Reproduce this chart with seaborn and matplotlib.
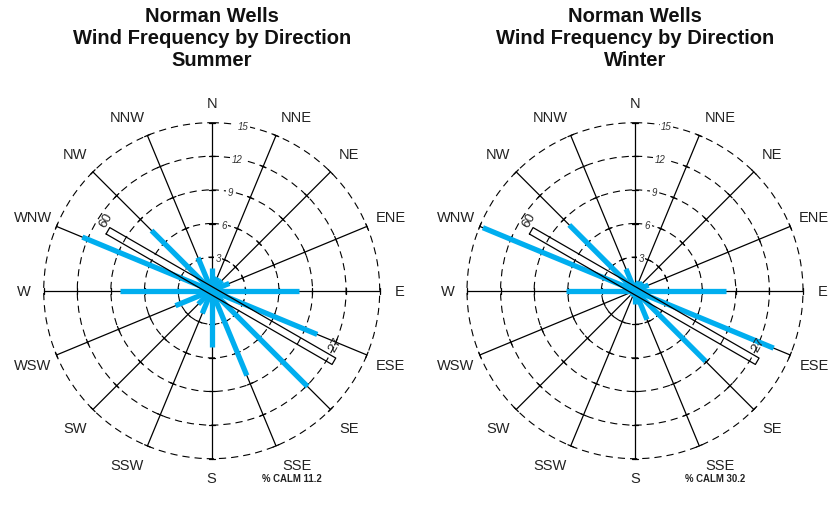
import numpy as np
import pandas as pd
import matplotlib
matplotlib.use("Agg")
import matplotlib.pyplot as plt
import seaborn as sns

# ── data ────────────────────────────────────────────────────────────────────
directions = ["N", "NNE", "NE", "ENE", "E", "ESE", "SE", "SSE",
              "S", "SSW", "SW", "WSW", "W", "WNW", "NW", "NNW"]
summer_freq = [2.0, 1.3, 1.3, 1.7, 7.8, 10.2, 12.1, 8.2,
               5.0, 2.2, 1.7, 3.5, 8.2, 12.5, 7.6, 3.2]
winter_freq = [0.8, 0.9, 1.0, 1.3, 8.1, 13.4, 8.9, 2.8,
               1.2, 0.6, 0.5, 0.5, 6.2, 14.7, 8.3, 2.1]
seasons = ["Summer", "Winter"]
calm_pct = [11.2, 30.2]
ring_values = [3, 6, 9, 12, 15]
runway_labels = ["09", "27"]
runway_bearing = 120          # degrees true
runway_extent = (-10.7, 12.6)  # along-runway extent in % units

BLUE = "#00AEEF"
RMAX = 15

sns.set_theme(style="white")
plt.rcParams["font.family"] = ["Liberation Sans", "DejaVu Sans"]

fig = plt.figure(figsize=(8.32, 5.06), dpi=100)
fig.patch.set_facecolor("white")

centers_px = [211.7, 635.0]
cy_px = 291.7
rad_px = 168.0
W, H = 832, 506


def to_polar(x, y):
    # compass coords (x east, y north) -> (theta rad, r)
    return np.arctan2(x, y), np.hypot(x, y)


def draw_rose(ax, freq):
    theta = np.deg2rad(np.arange(16) * 22.5)
    ax.set_theta_zero_location("N")
    ax.set_theta_direction(-1)
    ax.set_ylim(0, RMAX)
    ax.set_facecolor("none")
    ax.spines["polar"].set_visible(False)

    # grid: dashed rings + solid spokes
    ax.set_rgrids(ring_values)
    ax.set_thetagrids(np.arange(16) * 22.5)
    ax.set_xticklabels([])
    ax.set_yticklabels([])
    ax.yaxis.grid(True, color="black", lw=0.8, linestyle=(0, (6.5, 4.5)))
    ax.xaxis.grid(True, color="black", lw=0.9, linestyle="-")
    ax.tick_params(length=0)
    for gl in ax.yaxis.get_gridlines() + ax.xaxis.get_gridlines():
        gl.set_clip_on(False)

    # little cross ticks on spokes
    for th in theta:
        for r in ring_values:
            d = 0.27 / r
            ax.plot([th - d, th + d], [r, r], color="black", lw=0.9,
                    zorder=2, clip_on=False)

    # blue frequency bars
    df = pd.DataFrame({
        "dir": np.repeat(directions, 2),
        "theta": np.repeat(theta, 2),
        "r": np.ravel([[0, f] for f in freq]),
    })
    sns.lineplot(data=df, x="theta", y="r", units="dir", estimator=None,
                 sort=False, color=BLUE, lw=3.8, ax=ax, legend=False,
                 solid_capstyle="butt", zorder=3)
    ax.set_xlabel("")
    ax.set_ylabel("")

    # runway rectangle
    b = np.deg2rad(runway_bearing)
    u = np.array([np.sin(b), np.cos(b)])
    p = np.array([np.cos(b), -np.sin(b)])
    a0, a1 = runway_extent
    w = 0.33
    pts = np.array([a0 * u + w * p, a1 * u + w * p, a1 * u - w * p,
                    a0 * u - w * p, a0 * u + w * p])
    th_r, r_r = to_polar(pts[:, 0], pts[:, 1])
    ax.plot(th_r, r_r, color="black", lw=0.9, zorder=4)
    ax.text(np.deg2rad(303.5), 11.8, runway_labels[0], rotation=240,
            ha="center", va="center", fontsize=9.5, color="#222222", zorder=5)
    ax.text(np.deg2rad(113.5), 12.0, runway_labels[1], rotation=60,
            ha="center", va="center", fontsize=9.5, color="#222222", zorder=5)

    # ring value labels
    for r in ring_values:
        ax.text(np.deg2rad(10.8), r, str(r), fontsize=7, style="italic",
                color="#333333", ha="center", va="center", zorder=5,
                bbox=dict(boxstyle="square,pad=0.15", fc="white", ec="none"))

    # direction labels
    for th, name in zip(theta, directions):
        rr = 16.75 if len(name) == 1 else 17.3
        shift = {"NNE": 3.5, "SSE": -3.5, "SSW": 3.5, "NNW": -3.5}.get(name, 0)
        ax.text(th + np.deg2rad(shift), rr, name, ha="center",
                va="center", fontsize=10.5, color="#222222",
                clip_on=False)


for i, (freq, season, calm) in enumerate(zip([summer_freq, winter_freq], seasons, calm_pct)):
    cx = centers_px[i]
    ax = fig.add_axes([(cx - rad_px) / W, (H - cy_px - rad_px) / H,
                       2 * rad_px / W, 2 * rad_px / H], projection="polar")
    draw_rose(ax, freq)
    fig.text(cx / W, 1 - 38.5 / H,
             f"Norman Wells\nWind Frequency by Direction\n{season}",
             ha="center", va="center", fontsize=14.5, fontweight="bold",
             linespacing=1.2, color="#111111")
    fig.text((cx + 80) / W, 1 - 479 / H, f"% CALM {calm}", ha="center",
             va="center", fontsize=6.9, fontweight="bold", color="#222222")

fig.savefig("out.png", dpi=100)
